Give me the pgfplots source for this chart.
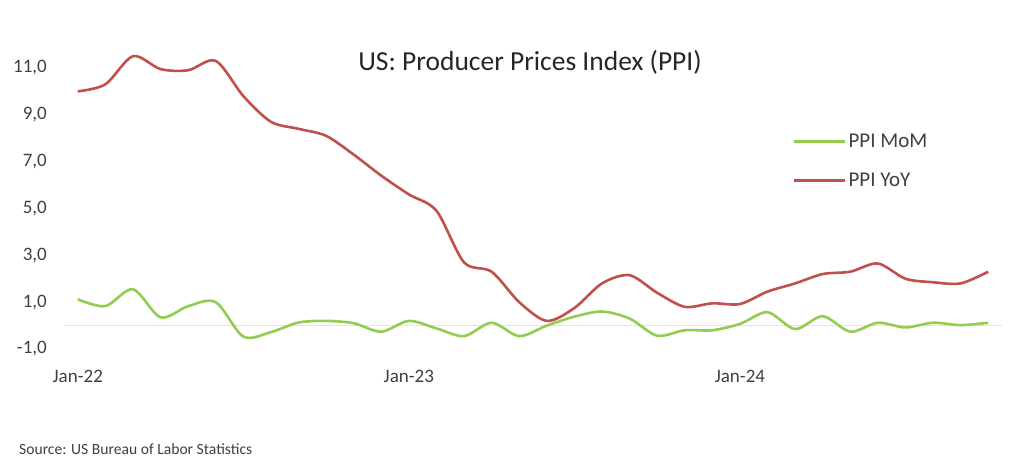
\documentclass[border=0pt]{standalone}
\usepackage{pgfplots}
\pgfplotsset{compat=1.18}
\usepackage{fontspec}
\setmainfont{Carlito}
\definecolor{momgreen}{RGB}{146,205,80}
\definecolor{yoyred}{RGB}{192,80,77}
\definecolor{txt}{RGB}{64,64,64}
\definecolor{zline}{RGB}{225,232,218}
\begin{document}
\begin{tikzpicture}[x=1pt,y=1pt]
\useasboundingbox (0,0) rectangle (1024,462);
\fill[white] (0,0) rectangle (1024,462);
\begin{axis}[
  at={(64pt,113pt)}, anchor=south west,
  scale only axis, width=938pt, height=304.5pt,
  xmin=-0.5, xmax=33.5, ymin=-1, ymax=12,
  axis line style={draw=none},
  tick style={draw=none},
  major tick length=0pt,
  xtick={0,12,24},
  xticklabels={Jan-22,Jan-23,Jan-24},
  ytick={-1,1,3,5,7,9,11},
  y tick label style={/pgf/number format/fixed, /pgf/number format/fixed zerofill,
    /pgf/number format/precision=1, /pgf/number format/use comma,
    /pgf/number format/assume math mode=true,
    font=\fontsize{19}{22}\selectfont, text=txt, anchor=east, inner sep=0pt, xshift=-17pt},
  x tick label style={font=\fontsize{19}{22}\selectfont, text=txt, anchor=center, inner sep=0pt, yshift=-27pt},
  legend style={at={(0.777,0.618)}, anchor=west, draw=none, fill=none, inner sep=0pt,
    font=\fontsize{21}{24}\selectfont, text=txt, row sep=20pt},
  legend cell align=left,
  legend image code/.code={\draw[#1] (0pt,0pt) -- (40pt,0pt); \path (0pt,0pt) -- (51pt,0pt);},
  clip=false,
]
\draw[zline, line width=1pt] (axis cs:-0.5,0) -- (axis cs:33.5,0);
\addplot[momgreen, line width=2.6pt, smooth] coordinates {
(0,1.12) (1,0.83) (2,1.55) (3,0.35) (4,0.83) (5,1.0) (6,-0.47) (7,-0.28)
(8,0.13) (9,0.2) (10,0.1) (11,-0.26) (12,0.2) (13,-0.12) (14,-0.45) (15,0.12)
(16,-0.45) (17,0.0) (18,0.38) (19,0.6) (20,0.3) (21,-0.43) (22,-0.2) (23,-0.2)
(24,0.07) (25,0.57) (26,-0.15) (27,0.4) (28,-0.26) (29,0.12) (30,-0.08) (31,0.12)
(32,0.02) (33,0.12)
};
\addlegendentry{PPI MoM}
\addplot[yoyred, line width=2.6pt, smooth] coordinates {
(0,10.0) (1,10.3) (2,11.5) (3,10.95) (4,10.9) (5,11.3) (6,9.8) (7,8.7)
(8,8.4) (9,8.1) (10,7.3) (11,6.4) (12,5.6) (13,4.9) (14,2.7) (15,2.3)
(16,1.0) (17,0.2) (18,0.75) (19,1.8) (20,2.15) (21,1.4) (22,0.8) (23,0.95)
(24,0.92) (25,1.45) (26,1.8) (27,2.2) (28,2.3) (29,2.65) (30,2.0) (31,1.85)
(32,1.8) (33,2.3)
};
\addlegendentry{PPI YoY}
\end{axis}
\node[font=\fontsize{27.5}{30}\selectfont, text=black!85] at (530,400) {US: Producer Prices Index (PPI)};
\node[font=\fontsize{15.6}{18}\selectfont, text=txt, anchor=west, inner sep=0pt] at (19,13) {Source: US Bureau of Labor Statistics};
\end{tikzpicture}
\end{document}
